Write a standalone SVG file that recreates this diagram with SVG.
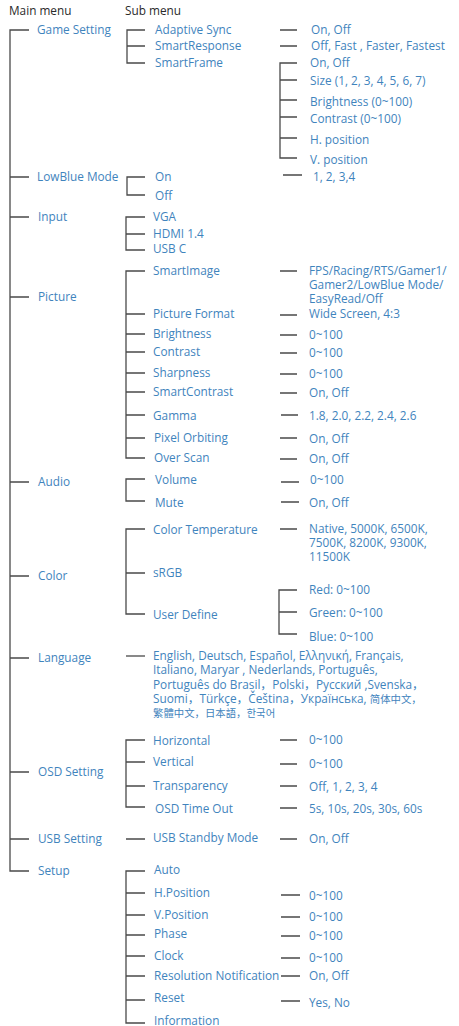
<svg xmlns="http://www.w3.org/2000/svg" width="459" height="1026" viewBox="0 0 459 1026">
<style>
text{font-family:"Open Sans","Noto Sans","Noto Sans CJK SC",sans-serif;font-size:11.8px}
.h{fill:#2a2a2a}
.t{fill:#3f84bd}
.cjk{font-family:"Noto Sans CJK SC","Noto Sans CJK KR",sans-serif;font-size:10.4px}
.ln{fill:none;stroke:#4a4a4a;stroke-width:1.3}
</style>
<rect width="459" height="1026" fill="#ffffff"/>
<g id="headers">
<text class="h" x="9" y="15">Main menu</text>
<text class="h" x="125" y="15">Sub menu</text>
</g>
<g id="connectors" class="ln">
<path d="M29,30 H10 V871 H29 M10,177 H29 M10,217 H29 M10,297 H29 M10,482 H29 M10,576 H29 M10,658 H29 M10,772 H29 M10,839 H29"/>
<path d="M145,30 H127 V63 H145 M127,46 H145 M280,30 H297 M280,46 H297"/>
<path d="M297,63 H280 V158 H297 M280,80 H297 M280,100 H297 M280,117 H297 M280,138 H297"/>
<path d="M145,177 H127 V195 H145 M283,175 H302"/>
<path d="M145,217 H126 V250 H145 M126,234 H145"/>
<path d="M145,271 H126 V458 H145 M126,314 H145 M126,334 H145 M126,352 H145 M126,373 H145 M126,392 H145 M126,415 H145 M126,438 H145"/>
<path d="M280,271 H297 M280,315 H297 M280,335 H297 M280,353 H297 M280,374 H297 M280,393 H297 M281,415 H298 M280,438 H297 M280,459 H297"/>
<path d="M145,479 H126 V501 H145 M281,482 H299 M281,502 H299"/>
<path d="M145,529 H126 V614 H145 M126,573 H145 M280,529 H297"/>
<path d="M297,590 H279 V634 H297 M279,612 H297"/>
<path d="M126,656 H145"/>
<path d="M145,740 H126 V807 H145 M126,762 H145 M126,786 H145 M280,740 H297 M280,764 H297 M280,786 H297 M280,808 H297"/>
<path d="M126,839 H145 M280,839 H297"/>
<path d="M145,871 H126 V1023 H145 M126,893 H145 M126,915 H145 M126,935 H145 M126,956 H145 M126,976 H145 M126,1000 H145"/>
<path d="M281,895 H300 M281,917 H300 M281,936 H300 M281,958 H300 M281,976 H300 M281,1001 H300"/>
</g>
<g id="game-setting">
<text class="t" x="37" y="34">Game Setting</text>
<text class="t" x="155" y="34">Adaptive Sync</text>
<text class="t" x="155" y="50">SmartResponse</text>
<text class="t" x="155" y="67">SmartFrame</text>
<text class="t" x="311" y="34">On, Off</text>
<text class="t" x="311" y="50">Off, Fast , Faster, Fastest</text>
<text class="t" x="310" y="67">On, Off</text>
<text class="t" x="310" y="85">Size (1, 2, 3, 4, 5, 6, 7)</text>
<text class="t" x="310" y="106">Brightness (0~100)</text>
<text class="t" x="310" y="123">Contrast (0~100)</text>
<text class="t" x="310" y="144">H. position</text>
<text class="t" x="310" y="164">V. position</text>
</g>
<g id="lowblue-mode">
<text class="t" x="37" y="181">LowBlue Mode</text>
<text class="t" x="155" y="181">On</text>
<text class="t" x="155" y="200">Off</text>
<text class="t" x="313" y="181">1, 2, 3,4</text>
</g>
<g id="input">
<text class="t" x="38" y="221">Input</text>
<text class="t" x="153" y="221">VGA</text>
<text class="t" x="153" y="238">HDMI 1.4</text>
<text class="t" x="153" y="253">USB C</text>
</g>
<g id="picture">
<text class="t" x="38" y="301">Picture</text>
<text class="t" x="153" y="275">SmartImage</text>
<text class="t" x="309" y="275">FPS/Racing/RTS/Gamer1/</text>
<text class="t" x="309" y="289">Gamer2/LowBlue Mode/</text>
<text class="t" x="309" y="303">EasyRead/Off</text>
<text class="t" x="153" y="318">Picture Format</text>
<text class="t" x="309" y="318">Wide Screen, 4:3</text>
<text class="t" x="153" y="338">Brightness</text>
<text class="t" x="309" y="339">0~100</text>
<text class="t" x="153" y="356">Contrast</text>
<text class="t" x="309" y="357">0~100</text>
<text class="t" x="153" y="377">Sharpness</text>
<text class="t" x="309" y="378">0~100</text>
<text class="t" x="153" y="396">SmartContrast</text>
<text class="t" x="309" y="397">On, Off</text>
<text class="t" x="153" y="420">Gamma</text>
<text class="t" x="309" y="420">1.8, 2.0, 2.2, 2.4, 2.6</text>
<text class="t" x="154" y="442">Pixel Orbiting</text>
<text class="t" x="309" y="443">On, Off</text>
<text class="t" x="154" y="462">Over Scan</text>
<text class="t" x="309" y="463">On, Off</text>
</g>
<g id="audio">
<text class="t" x="38" y="486">Audio</text>
<text class="t" x="155" y="484">Volume</text>
<text class="t" x="310" y="484">0~100</text>
<text class="t" x="155" y="507">Mute</text>
<text class="t" x="309" y="507">On, Off</text>
</g>
<g id="color">
<text class="t" x="38" y="580">Color</text>
<text class="t" x="153" y="534">Color Temperature</text>
<text class="t" x="309" y="533">Native, 5000K, 6500K,</text>
<text class="t" x="309" y="547">7500K, 8200K, 9300K,</text>
<text class="t" x="309" y="561">11500K</text>
<text class="t" x="153" y="577">sRGB</text>
<text class="t" x="153" y="619">User Define</text>
<text class="t" x="309" y="594">Red: 0~100</text>
<text class="t" x="309" y="617">Green: 0~100</text>
<text class="t" x="309" y="641">Blue: 0~100</text>
</g>
<g id="language">
<text class="t" x="38" y="662">Language</text>
<text class="t" x="153" y="660">English, Deutsch, Español, Ελληνική, Français,</text>
<text class="t" x="153" y="674">Italiano,  Maryar ,  Nederlands, Português,</text>
<text class="t" x="153" y="689">Português do Brasil，Polski，Русский ,Svenska，</text>
<text class="t" x="153" y="703">Suomi，Türkçe，Čeština，Українська, <tspan class="cjk">简体中文，</tspan></text>
<text class="t cjk" x="153" y="717">繁體中文，日本語，한국어</text>
</g>
<g id="osd-setting">
<text class="t" x="38" y="776">OSD Setting</text>
<text class="t" x="153" y="745">Horizontal</text>
<text class="t" x="309" y="744">0~100</text>
<text class="t" x="153" y="766">Vertical</text>
<text class="t" x="309" y="768">0~100</text>
<text class="t" x="153" y="790">Transparency</text>
<text class="t" x="309" y="791">Off, 1, 2, 3, 4</text>
<text class="t" x="155" y="813">OSD Time Out</text>
<text class="t" x="309" y="813">5s, 10s, 20s, 30s, 60s</text>
</g>
<g id="usb-setting">
<text class="t" x="38" y="843">USB Setting</text>
<text class="t" x="153" y="842">USB Standby Mode</text>
<text class="t" x="309" y="843">On, Off</text>
</g>
<g id="setup">
<text class="t" x="38" y="875">Setup</text>
<text class="t" x="154" y="874">Auto</text>
<text class="t" x="154" y="897">H.Position</text>
<text class="t" x="309" y="900">0~100</text>
<text class="t" x="154" y="919">V.Position</text>
<text class="t" x="309" y="921">0~100</text>
<text class="t" x="154" y="938">Phase</text>
<text class="t" x="309" y="940">0~100</text>
<text class="t" x="154" y="960">Clock</text>
<text class="t" x="309" y="962">0~100</text>
<text class="t" x="154" y="980">Resolution Notification</text>
<text class="t" x="309" y="980">On, Off</text>
<text class="t" x="154" y="1002">Reset</text>
<text class="t" x="309" y="1007">Yes, No</text>
<text class="t" x="154" y="1025">Information</text>
</g>
</svg>
